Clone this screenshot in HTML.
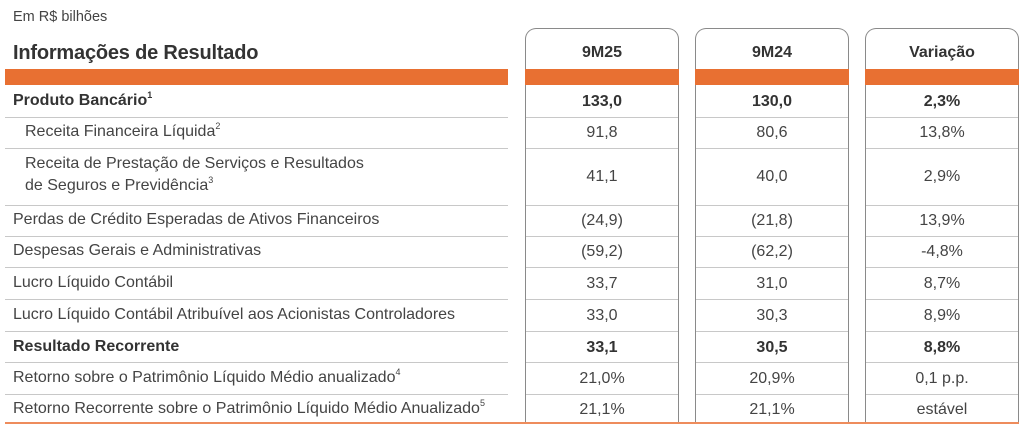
<!DOCTYPE html>
<html><head><meta charset="utf-8"><style>
body{margin:0;width:1024px;height:433px;background:#fff;position:relative;overflow:hidden;font-family:"Liberation Sans",sans-serif;color:#444;}
.a{position:absolute;}
.t{position:absolute;font-size:16px;letter-spacing:0px;white-space:nowrap;line-height:18px;}
.t sup{font-size:9px;line-height:0;vertical-align:7px;}
.b{font-weight:bold;color:#333;}
.ln{position:absolute;height:1px;background:#c8c8c8;}
.box{position:absolute;top:28px;height:395px;border:1px solid #8a8a8a;border-bottom:none;border-radius:11px 11px 0 0;box-sizing:border-box;}
.or{position:absolute;top:69px;height:16px;background:#e87032;}
.c{text-align:center;}
</style></head><body>
<div class="t" style="left:13px;top:8px;font-size:14.5px;">Em R$ bilhões</div>
<div class="t b" style="left:13px;top:41px;font-size:20px;line-height:24px;letter-spacing:-0.2px;">Informações de Resultado</div>

<div class="box" style="left:525px;width:154px;"></div>
<div class="box" style="left:695px;width:154px;"></div>
<div class="box" style="left:865px;width:154px;"></div>

<div class="or" style="left:5px;width:503px;"></div>
<div class="or" style="left:525px;width:154px;"></div>
<div class="or" style="left:695px;width:154px;"></div>
<div class="or" style="left:865px;width:154px;"></div>

<div class="t b c" style="left:525px;width:154px;top:44px;">9M25</div>
<div class="t b c" style="left:695px;width:154px;top:44px;">9M24</div>
<div class="t b c" style="left:865px;width:154px;top:44px;">Variação</div>

<div id="lines"></div>
<script>
var ys=[117,148,205,236,267,299,331,362,394];
var segs=[[5,503],[526,152],[696,152],[866,152]];
var h='';
ys.forEach(function(y){segs.forEach(function(s){h+='<div class="ln" style="left:'+s[0]+'px;width:'+s[1]+'px;top:'+y+'px"></div>';});});
document.getElementById('lines').innerHTML=h;
</script>
<div class="a" style="left:5px;width:1014px;top:422px;height:2px;background:#ee8c5c;"></div>

<div class="t b" style="left:13px;top:92px;">Produto Bancário<sup>1</sup></div>
<div class="t" style="left:25px;top:123px;">Receita Financeira Líquida<sup>2</sup></div>
<div class="t" style="left:25px;top:155px;">Receita de Prestação de Serviços e Resultados</div>
<div class="t" style="left:25px;top:177px;">de Seguros e Previdência<sup>3</sup></div>
<div class="t" style="left:13px;top:211px;">Perdas de Crédito Esperadas de Ativos Financeiros</div>
<div class="t" style="left:13px;top:242px;">Despesas Gerais e Administrativas</div>
<div class="t" style="left:13px;top:274px;">Lucro Líquido Contábil</div>
<div class="t" style="left:13px;top:306px;">Lucro Líquido Contábil Atribuível aos Acionistas Controladores</div>
<div class="t b" style="left:13px;top:338px;">Resultado Recorrente</div>
<div class="t" style="left:13px;top:369px;">Retorno sobre o Patrimônio Líquido Médio anualizado<sup>4</sup></div>
<div class="t" style="left:13px;top:400px;">Retorno Recorrente sobre o Patrimônio Líquido Médio Anualizado<sup>5</sup></div>

<div id="vals"></div>
<script>
var rows=[[93,'133,0','130,0','2,3%',1],[124,'91,8','80,6','13,8%'],[168,'41,1','40,0','2,9%'],[212,'(24,9)','(21,8)','13,9%'],[243,'(59,2)','(62,2)','-4,8%'],[275,'33,7','31,0','8,7%'],[307,'33,0','30,3','8,9%'],[339,'33,1','30,5','8,8%',1],[370,'21,0%','20,9%','0,1 p.p.'],[401,'21,1%','21,1%','estável']];
var xs=[525,695,865],o='';
rows.forEach(function(r){for(var i=0;i<3;i++){o+='<div class="t c'+(r[4]?' b':'')+'" style="left:'+xs[i]+'px;width:154px;top:'+r[0]+'px;font-size:16px">'+r[i+1]+'</div>';}});
document.getElementById('vals').innerHTML=o;
</script>
</body></html>
